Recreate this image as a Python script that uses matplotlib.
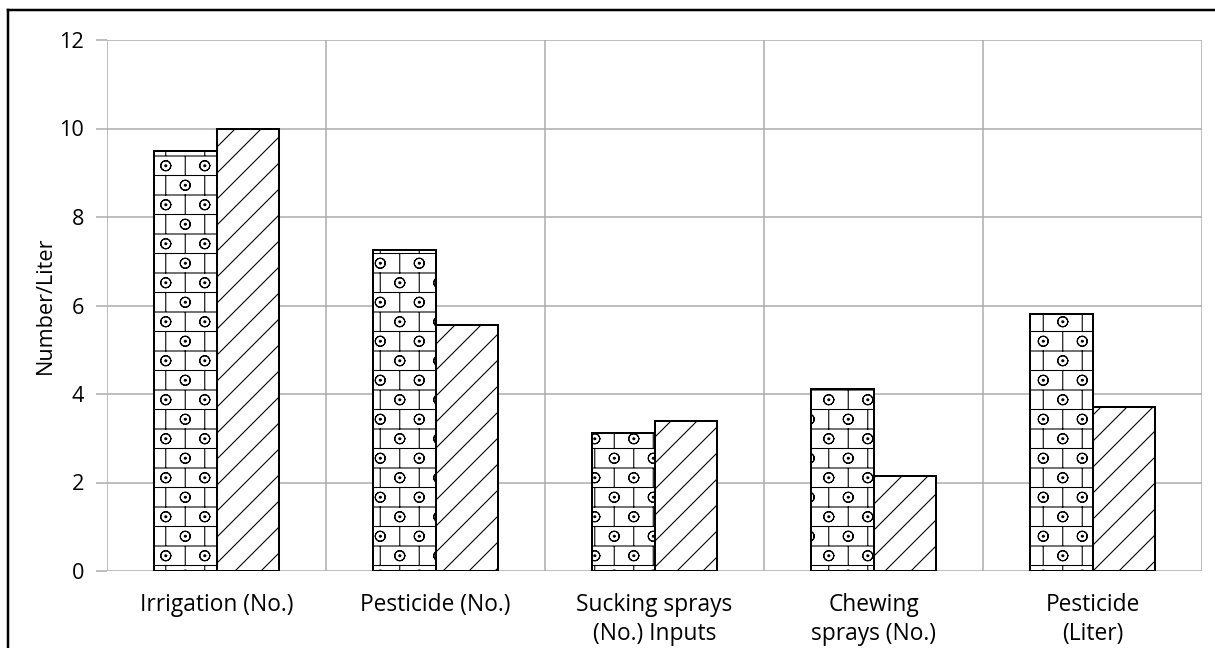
import warnings
import numpy as np
import matplotlib
matplotlib.use("Agg")
import matplotlib.pyplot as plt
import matplotlib.hatch as mhatch
from matplotlib.path import Path
from matplotlib.lines import Line2D

warnings.filterwarnings("ignore")

categories = ["Irrigation (No.)", "Pesticide (No.)", "Sucking sprays\n(No.) Inputs",
              "Chewing\nsprays (No.)", "Pesticide\n(Liter)"]
series_a = [9.5, 7.25, 3.12, 4.12, 5.8]
series_b = [10.0, 5.55, 3.4, 2.15, 3.71]
y_ticks = [0, 2, 4, 6, 8, 10, 12]

DPI = 78


# brick pattern with a dotted circle in each brick (hatch char 'b')
def brick_path():
    verts, codes = [], []

    def add(pts):
        verts.extend(pts)
        codes.extend([Path.MOVETO] + [Path.LINETO] * (len(pts) - 1))

    for y in [0.0, 0.25, 0.5, 0.75, 1.0]:
        add([(0, y), (1, y)])
    t = np.linspace(0, 2 * np.pi, 25)
    for r in range(4):
        y0, y1 = 0.25 * r, 0.25 * (r + 1)
        yc = (y0 + y1) / 2
        vx = [0.125, 0.625] if r % 2 == 0 else [0.375, 0.875]
        cx = [0.375, 0.875] if r % 2 == 0 else [0.125, 0.625]
        for x in vx:
            add([(x, y0), (x, y1)])
        for x in cx:
            ring = np.column_stack([x + 0.064 * np.cos(t), yc + 0.064 * np.sin(t)])
            add(ring)
            add(ring[::-1])
            add(np.column_stack([x + 0.012 * np.cos(t), yc + 0.012 * np.sin(t)]))
    return np.array(verts, float), np.array(codes, Path.code_type)


class BrickHatch(mhatch.HatchPatternBase):
    def __init__(self, hatch, density):
        self.on = "b" in hatch
        if self.on:
            self.v, self.c = brick_path()
            self.num_vertices = len(self.v)
        else:
            self.num_vertices = 0

    def set_vertices_and_codes(self, vertices, codes):
        vertices[:] = self.v
        codes[:] = self.c


mhatch._hatch_types.append(BrickHatch)

plt.rcParams["font.family"] = ["Open Sans", "DejaVu Sans"]
plt.rcParams["hatch.linewidth"] = 1.0

fig = plt.figure(figsize=(1215 / DPI, 648 / DPI), dpi=DPI)
ax = fig.add_axes([107 / 1215, 1 - 571 / 648, (1202 - 107) / 1215, (571 - 40) / 648])

x = np.arange(len(categories))
w = 0.285
ax.bar(x - w / 2, series_a, w, color="white", edgecolor="black", linewidth=1.85, hatch="b", zorder=3)
ax.bar(x + w / 2, series_b, w, color="white", edgecolor="black", linewidth=1.85, hatch="/", zorder=3)

ax.set_xlim(-0.5, len(categories) - 0.5)
ax.set_ylim(0, 12)
ax.set_yticks(y_ticks)
ax.set_xticks(x)
ax.set_xticklabels(categories, fontsize=21, linespacing=1.28, va="top")
ax.set_xticks(np.arange(-0.5, len(categories)), minor=True)
ax.tick_params(axis="x", which="both", length=0, pad=20)
ax.tick_params(axis="y", length=10, width=1.4, color="#ababab", labelsize=20, pad=11)
ax.grid(axis="y", color="#ababab", linewidth=1.4, zorder=0)
ax.grid(axis="x", which="minor", color="#ababab", linewidth=1.4, zorder=0)
ax.set_axisbelow(True)
for s in ax.spines.values():
    s.set_visible(False)
ax.set_ylabel("Number/Liter", fontsize=20, labelpad=3)

# outer frame (left and top edges visible)
fig.add_artist(Line2D([8 / 1215, 8 / 1215], [0, 1 - 10 / 648], color="black", lw=2.3, transform=fig.transFigure))
fig.add_artist(Line2D([8 / 1215, 1], [1 - 10 / 648, 1 - 10 / 648], color="black", lw=2.3, transform=fig.transFigure))

fig.savefig("out.png", dpi=DPI)
